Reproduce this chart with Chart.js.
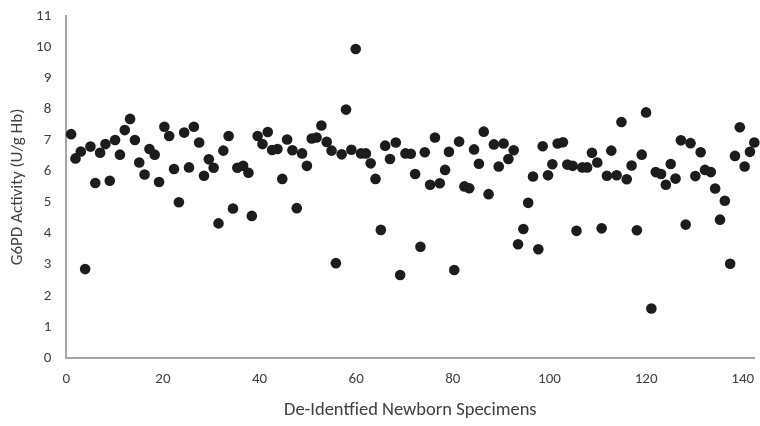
<!DOCTYPE html>
<html><head><meta charset="utf-8">
<script src="https://cdn.jsdelivr.net/npm/chart.js@4/dist/chart.umd.min.js"></script>
<style>html,body{margin:0;padding:0;background:#fff}#wrap{width:760px;height:426px}</style>
</head><body><div id="wrap"><canvas id="c" width="760" height="426"></canvas></div>
<script>
const specimen = [1.0,1.9,3.0,3.9,5.0,6.0,7.0,8.1,9.0,10.1,11.1,12.1,13.2,14.2,15.1,16.2,17.2,18.3,19.2,20.3,21.3,22.3,23.3,24.4,25.4,26.4,27.5,28.5,29.5,30.5,31.5,32.5,33.6,34.5,35.4,36.6,37.7,38.4,39.6,40.6,41.7,42.6,43.7,44.7,45.7,46.8,47.7,48.8,49.8,50.8,51.8,52.8,53.9,54.9,55.8,57.0,57.9,59.0,59.9,61.0,62.0,63.0,64.0,65.1,66.0,67.0,68.2,69.1,70.2,71.3,72.2,73.3,74.2,75.3,76.3,77.3,78.4,79.2,80.3,81.3,82.4,83.4,84.4,85.4,86.4,87.4,88.5,89.5,90.5,91.5,92.6,93.5,94.6,95.6,96.6,97.7,98.6,99.7,100.6,101.7,102.8,103.7,104.8,105.6,106.8,107.8,108.8,109.9,110.8,111.9,112.8,113.9,114.9,116.0,117.0,118.1,119.1,120.0,121.1,122.0,123.1,124.1,125.1,126.1,127.2,128.2,129.2,130.2,131.3,132.2,133.4,134.3,135.3,136.3,137.4,138.4,139.4,140.4,141.5,142.4];
const activity = [7.20,6.42,6.64,2.86,6.80,5.63,6.60,6.88,5.70,7.01,6.54,7.33,7.69,7.01,6.29,5.90,6.72,6.54,5.66,7.44,7.14,6.08,5.01,7.25,6.13,7.44,6.93,5.86,6.39,6.12,4.33,6.67,7.14,4.81,6.12,6.18,5.96,4.57,7.14,6.88,7.27,6.69,6.72,5.76,7.03,6.68,4.82,6.58,6.18,7.06,7.09,7.48,6.95,6.67,3.05,6.55,7.99,6.70,9.94,6.58,6.58,6.26,5.76,4.12,6.83,6.40,6.93,2.67,6.58,6.57,5.92,3.58,6.62,5.57,7.09,5.62,6.05,6.63,2.83,6.96,5.52,5.46,6.71,6.25,7.28,5.27,6.87,6.16,6.90,6.40,6.68,3.66,4.15,4.99,5.84,3.50,6.81,5.88,6.23,6.90,6.94,6.22,6.18,4.09,6.13,6.13,6.60,6.29,4.17,5.86,6.67,5.88,7.59,5.75,6.19,4.11,6.54,7.90,1.59,5.98,5.92,5.57,6.24,5.77,7.00,4.29,6.91,5.85,6.62,6.05,5.98,5.45,4.45,5.06,3.03,6.50,7.42,6.16,6.63,6.93];
const xTicks = [0,20,40,60,80,100,120,140];
const yTicks = [0,1,2,3,4,5,6,7,8,9,10,11];
const xTitle = 'De-Identfied Newborn Specimens';
const yTitle = 'G6PD Activity (U/g Hb)';

const points = specimen.map((x,i)=>({x:x,y:activity[i]}));
const fontFam = "Carlito, Lato, 'Open Sans', sans-serif";
const txt = '#404040';
const axisCol = '#a6a6a6';

new Chart(document.getElementById('c'), {
  type: 'scatter',
  data: { datasets: [{ data: points, backgroundColor: '#1c1c1c', borderColor: '#1c1c1c', pointRadius: 5.3, pointHoverRadius: 5.3, borderWidth: 0, clip: false }] },
  options: {
    responsive: false, animation: false, devicePixelRatio: 1,
    layout: { padding: { top: 16, right: 5.7, left: 0, bottom: 0 } },
    plugins: { legend: { display: false }, tooltip: { enabled: false } },
    scales: {
      x: {
        type: 'linear', min: 0, max: 142.4,
        afterBuildTicks: s => { s.ticks = xTicks.map(v=>({value:v})); },
        afterFit: s => { s.height = 68; s.paddingLeft = 0; s.paddingRight = 0; },
        grid: { display: false, drawTicks: false },
        border: { display: true, color: axisCol, width: 2 },
        ticks: { padding: 12, color: txt, font: { family: fontFam, size: 15 }, maxRotation: 0 },
        title: { display: true, text: xTitle, color: txt, font: { family: fontFam, size: 18.5 }, padding: { top: 0, bottom: 5 } }
      },
      y: {
        min: 0, max: 11,
        afterBuildTicks: s => { s.ticks = yTicks.map(v=>({value:v})); },
        afterFit: s => { s.width = 66.3; s.paddingTop = 0; s.paddingBottom = 0; },
        grid: { display: false, drawTicks: false },
        border: { display: true, color: axisCol, width: 2 },
        ticks: { padding: 15, color: txt, font: { family: fontFam, size: 15 } },
        title: { display: true, text: yTitle, color: txt, font: { family: fontFam, size: 17 }, padding: { top: 8, bottom: 0 } }
      }
    }
  }
});
</script></body></html>
